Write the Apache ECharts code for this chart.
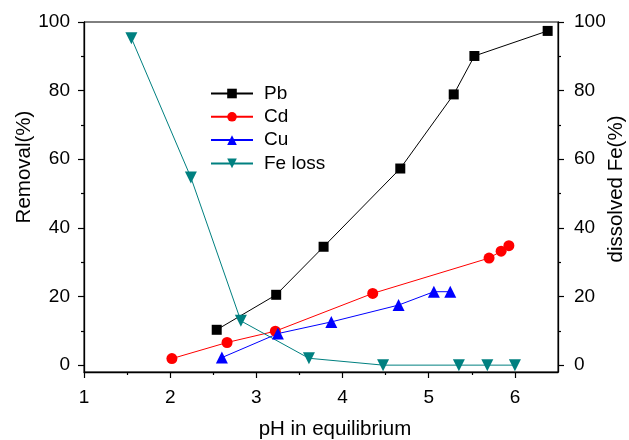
<!DOCTYPE html>
<html>
<head>
<meta charset="utf-8">
<script src="https://cdn.jsdelivr.net/npm/echarts@6/dist/echarts.min.js"></script>
<style>
  html, body { margin: 0; padding: 0; background: #fff; }
  #chart { width: 629px; height: 440px; }
</style>
</head>
<body>
<div id="chart"></div>
<script>
// Equilibrium pH and removal of each metal (%)
const pbPH = [2.54, 3.23, 3.78, 4.67, 5.29, 5.53, 6.38];
const pbRemoval = [10.3, 20.5, 34.5, 57.3, 78.9, 90.1, 97.4];

const cdPH = [2.02, 2.66, 3.22, 4.35, 5.70, 5.84, 5.93];
const cdRemoval = [1.9, 6.6, 9.9, 20.9, 31.2, 33.2, 34.8];

const cuPH = [2.60, 3.25, 3.87, 4.65, 5.06, 5.25];
const cuRemoval = [2.2, 9.2, 12.6, 17.5, 21.4, 21.4];

// Dissolved iron (%) plotted on the right axis
const fePH = [1.55, 2.24, 2.82, 3.61, 4.47, 5.35, 5.68, 6.00];
const feLoss = [95.3, 54.7, 12.9, 2.0, 0, 0, 0, 0];

// Tick positions
const xMajor = [1, 2, 3, 4, 5, 6];
const xMinor = [1.5, 2.5, 3.5, 4.5, 5.5];
const yMajor = [0, 20, 40, 60, 80, 100];
const yMinor = [10, 30, 50, 70, 90];

const pairs = (xs, ys) => xs.map((x, i) => [x, ys[i]]);

const FONT = 'Liberation Sans, Arial, sans-serif';
const labelStyle = { color: '#000', fontSize: 19, fontFamily: FONT };
const tickStyle = { color: '#000', width: 1.2 };
const solidLine = () => ({ show: true, onZero: false, lineStyle: { color: '#000', width: 1.3 } });
// padding shifts a centred axis title along its own reading direction
const titleStyle = (padding) => ({ color: '#000', fontSize: 20.5, fontFamily: FONT, padding });

function yAxisPair(position, name, nameGap, margin, shift) {
  return [
    {
      type: 'value', position, min: -2, max: 100,
      name, nameLocation: 'middle', nameGap, nameMoveOverlap: false,
      nameTextStyle: titleStyle(shift),
      axisLine: solidLine(),
      axisTick: { show: true, length: 6, lineStyle: tickStyle, customValues: yMajor },
      axisLabel: Object.assign({ margin, customValues: yMajor }, labelStyle),
      splitLine: { show: false }
    },
    {
      type: 'value', position, min: -2, max: 100,
      axisLine: { show: false, onZero: false },
      axisTick: { show: true, length: 3, lineStyle: tickStyle, customValues: yMinor },
      axisLabel: { show: false },
      splitLine: { show: false }
    }
  ];
}

const chart = echarts.init(document.getElementById('chart'), null, { renderer: 'canvas' });

chart.setOption({
  animation: false,
  backgroundColor: '#fff',
  grid: {
    left: 84, right: 71, top: 22, bottom: 68,
    outerBoundsMode: 'none', containLabel: false,
    show: true, borderColor: '#000', borderWidth: 1, backgroundColor: 'transparent'
  },
  legend: {
    orient: 'vertical',
    left: 205,
    top: 79,
    itemWidth: 42,
    itemHeight: 12,
    itemGap: 4.3,
    textStyle: { color: '#000', fontSize: 19, lineHeight: 19, fontFamily: FONT, padding: [0, 0, 0, 6] },
    data: ['Pb', 'Cd', 'Cu', 'Fe loss']
  },
  xAxis: [
    {
      type: 'value', position: 'bottom', min: 1, max: 6.5,
      name: 'pH in equilibrium', nameLocation: 'middle', nameGap: 47, nameMoveOverlap: false,
      nameTextStyle: titleStyle([0, 0, 0, 28]),
      axisLine: solidLine(),
      axisTick: { show: true, length: 6, lineStyle: tickStyle, customValues: xMajor },
      axisLabel: Object.assign({ margin: 16, customValues: xMajor }, labelStyle),
      splitLine: { show: false }
    },
    {
      type: 'value', position: 'bottom', min: 1, max: 6.5,
      axisLine: { show: false, onZero: false },
      axisTick: { show: true, length: 3, lineStyle: tickStyle, customValues: xMinor },
      axisLabel: { show: false },
      splitLine: { show: false }
    }
  ],
  yAxis: [
    ...yAxisPair('left', 'Removal(%)', 49, 14, [0, 0, 0, 60]),
    ...yAxisPair('right', 'dissolved Fe(%)', 48, 16, [0, 0, 0, 16])
  ],
  series: [
    {
      name: 'Pb', type: 'line', data: pairs(pbPH, pbRemoval),
      symbol: 'rect', symbolSize: 10,
      itemStyle: { color: '#000' }, lineStyle: { color: '#000', width: 1 }
    },
    {
      name: 'Cd', type: 'line', data: pairs(cdPH, cdRemoval),
      symbol: 'circle', symbolSize: 11,
      itemStyle: { color: '#ff0000' }, lineStyle: { color: '#ff0000', width: 1 }
    },
    {
      name: 'Cu', type: 'line', data: pairs(cuPH, cuRemoval),
      symbol: 'triangle', symbolSize: 12,
      itemStyle: { color: '#0000ff' }, lineStyle: { color: '#0000ff', width: 1 }
    },
    {
      name: 'Fe loss', type: 'line', yAxisIndex: 2, data: pairs(fePH, feLoss),
      symbol: 'triangle', symbolRotate: 180, symbolSize: 12,
      itemStyle: { color: '#008080' }, lineStyle: { color: '#008080', width: 1 }
    }
  ]
});
</script>
</body>
</html>
